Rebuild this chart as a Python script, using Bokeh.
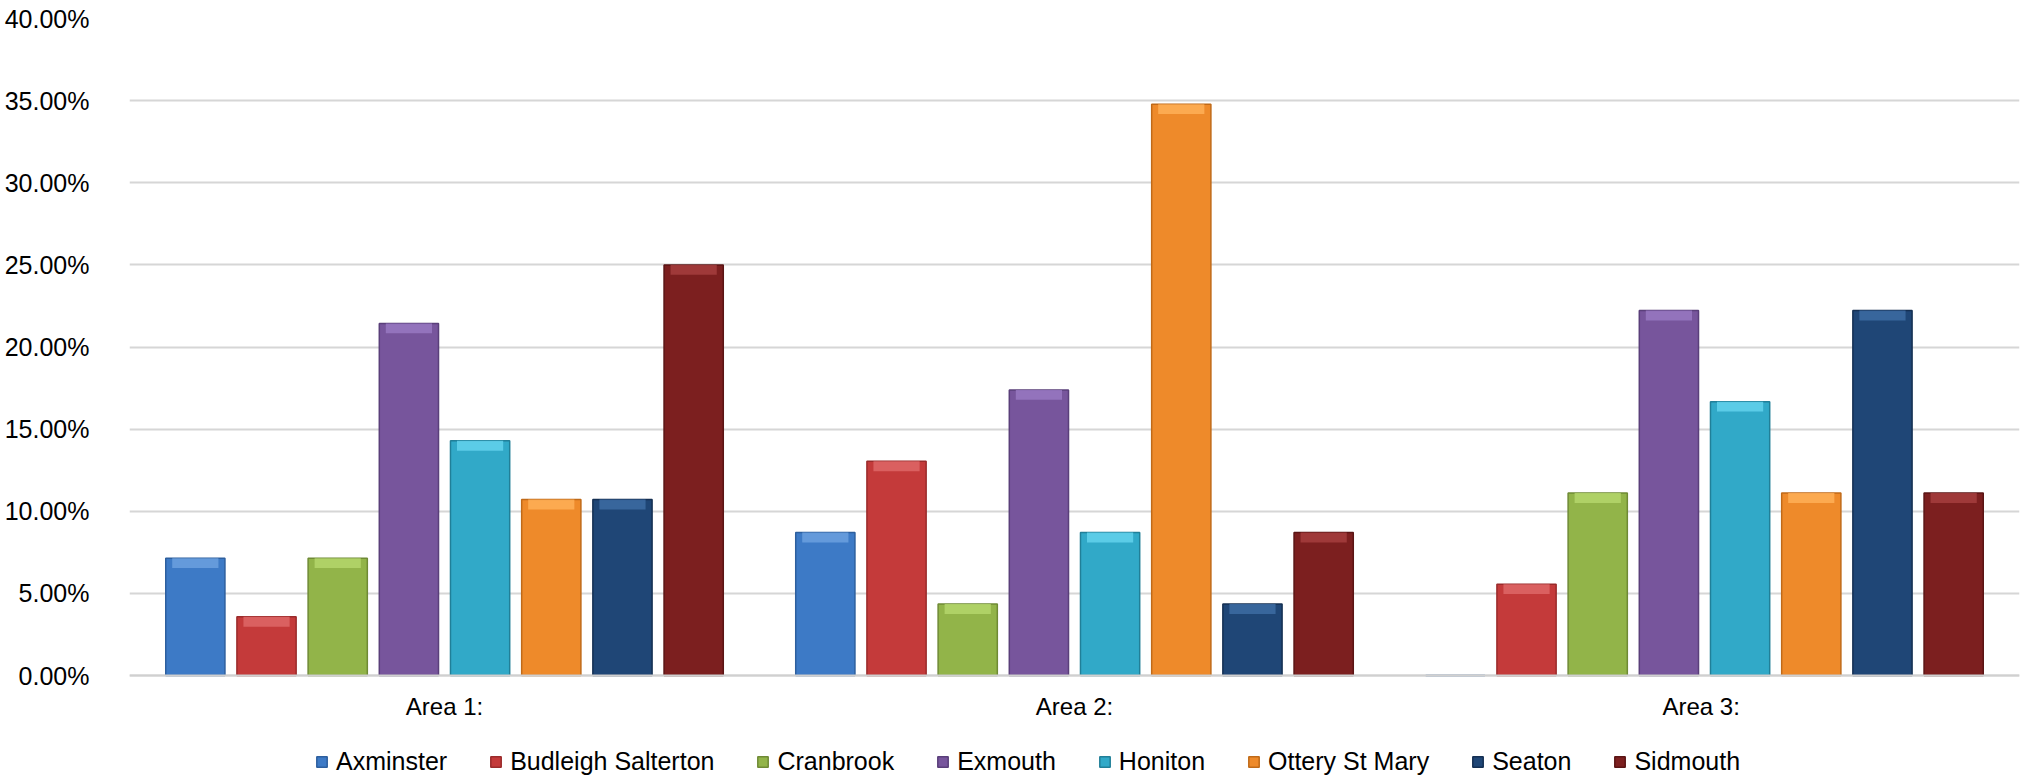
from bokeh.plotting import figure
from bokeh.models import ColumnDataSource, FactorRange, NumeralTickFormatter, FixedTicker, Legend, LegendItem
from bokeh.transform import dodge
from bokeh.embed import file_html
from bokeh.resources import INLINE

# ---- data (fractions) ----
areas = ["Area 1:", "Area 2:", "Area  3:"]
towns = ["Axminster", "Budleigh Salterton", "Cranbrook", "Exmouth",
         "Honiton", "Ottery St Mary", "Seaton", "Sidmouth"]
axminster = [0.0714, 0.0870, 0.0]
budleigh_salterton = [0.0357, 0.1304, 0.0556]
cranbrook = [0.0714, 0.0435, 0.1111]
exmouth = [0.2143, 0.1739, 0.2222]
honiton = [0.1429, 0.0870, 0.1667]
ottery_st_mary = [0.1071, 0.3478, 0.1111]
seaton = [0.1071, 0.0435, 0.2222]
sidmouth = [0.2500, 0.0870, 0.1111]
y_ticks = [0.0, 0.05, 0.10, 0.15, 0.20, 0.25, 0.30, 0.35, 0.40]

series = [axminster, budleigh_salterton, cranbrook, exmouth,
          honiton, ottery_st_mary, seaton, sidmouth]
fills = ["#3d7ac6", "#c43a3a", "#92b449", "#77559c", "#31a9c8", "#ee8a2a", "#1f4676", "#7c1f1f"]
edges = ["#2d5f9e", "#9a2b2b", "#6f8a35", "#5a3f7a", "#217f98", "#c06a18", "#142f52", "#5a1414"]
caps = ["#6ea2e0", "#e06a6a", "#b7d86e", "#9a7ac4", "#66d4ef", "#ffb25a", "#3f6ea6", "#a84040"]

FONT = "Liberation Sans"

# frame extends below zero so the legend can sit inside it
p = figure(x_range=FactorRange(*areas), y_range=(-0.0627, 0.40),
           width=2027, height=778, output_backend="svg", toolbar_location=None,
           min_border_left=129, min_border_right=8, min_border_top=18, min_border_bottom=0)
p.outline_line_color = None
p.background_fill_color = "white"
p.border_fill_color = "white"

data = {"area": areas}
for t, s in zip(towns, series):
    data[t] = s
    data[t + "_cap"] = [max(v - 0.006, 0.0) for v in s]
src = ColumnDataSource(data)

slot = 0.113
bw = 0.094
items = []
for i, t in enumerate(towns):
    off = (i - 3.5) * slot
    r = p.vbar(x=dodge("area", off, range=p.x_range), top=t, width=bw, source=src,
               fill_color=fills[i], line_color=edges[i], line_width=1.5)
    p.vbar(x=dodge("area", off, range=p.x_range), top=t, bottom=t + "_cap", width=bw * 0.78,
           source=src, fill_color=caps[i], line_color=None, fill_alpha=0.8)
    items.append(LegendItem(label=t, renderers=[r]))

legend = Legend(items=items, orientation="horizontal", location=(186, 2),
                label_text_font=FONT, label_text_font_size="25px", label_text_color="#000000",
                glyph_width=13, glyph_height=13, label_standoff=8, spacing=42,
                padding=0, margin=0, border_line_color=None, background_fill_alpha=0)
p.add_layout(legend, "center")

p.yaxis.ticker = FixedTicker(ticks=y_ticks)
p.yaxis.formatter = NumeralTickFormatter(format="0.00%")
p.yaxis.axis_line_color = None
p.yaxis.major_tick_line_color = None
p.yaxis.minor_tick_line_color = None
p.yaxis.major_label_text_font = FONT
p.yaxis.major_label_text_font_size = "25px"
p.yaxis.major_label_text_color = "#000000"
p.yaxis.major_label_standoff = 34

p.xaxis.fixed_location = 0
p.xaxis.axis_line_color = "#d0d0d0"
p.xaxis.axis_line_width = 2
p.xaxis.major_tick_line_color = None
p.xaxis.minor_tick_line_color = None
p.xaxis.major_label_text_font = FONT
p.xaxis.major_label_text_font_size = "24px"
p.xaxis.major_label_text_color = "#000000"
p.xaxis.major_label_standoff = 11

p.xgrid.grid_line_color = None
p.ygrid.grid_line_color = "#d6d6d6"
p.ygrid.grid_line_width = 2

open("out.html", "w").write(file_html(p, INLINE))
